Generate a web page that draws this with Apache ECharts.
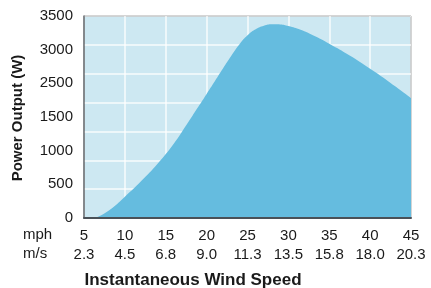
<!DOCTYPE html>
<html>
<head>
<meta charset="utf-8">
<script src="https://cdn.jsdelivr.net/npm/echarts@6/dist/echarts.min.js"></script>
<style>
  html, body { margin: 0; padding: 0; background: #fff; }
  #chart { width: 431px; height: 288px; }
</style>
</head>
<body>
<div id="chart"></div>
<script>
// wind speed (mph) and power output (W)
var speedMph = [6.4, 8, 10, 12, 14, 16, 17.5, 19, 20, 21, 22, 23, 24, 25, 26, 27, 28, 29, 30, 31.5, 33, 35, 37.5, 40, 42.5, 45];
var powerW   = [0, 125, 370, 640, 940, 1290, 1605, 1930, 2150, 2370, 2590, 2805, 3005, 3165, 3270, 3330, 3355, 3352, 3325, 3260, 3165, 3020, 2815, 2585, 2340, 2080];

var mphLabels = ['5', '10', '15', '20', '25', '30', '35', '40', '45'];
var msLabels = ['2.3', '4.5', '6.8', '9.0', '11.3', '13.5', '15.8', '18.0', '20.3'];
// the printed power scale skips 2000, labels are spread evenly
var powerLabels = ['0', '500', '1000', '1500', '2500', '3000', '3500'];

(function () {
  'use strict'

  var font = "'Liberation Sans', Arial, sans-serif";
  var txt = '#1a1a1a';

  var points = speedMph.map(function (s, i) { return [s, powerW[i]]; });

  var option = {
    animation: false,
    grid: {
      left: 84,
      right: 20,
      top: 16,
      bottom: 70,
      show: true,
      backgroundColor: '#cde8f2',
      borderColor: '#1a1a1a',
      borderWidth: 1
    },
    xAxis: [
      {
        type: 'value',
        min: 5,
        max: 45,
        interval: 5,
        position: 'bottom',
        z: 3,
        axisLine: { onZero: false, lineStyle: { color: '#4a5158', width: 2 } },
        axisTick: { show: false },
        splitLine: { lineStyle: { color: 'rgba(255,255,255,0.85)', width: 1.5 } },
        axisLabel: {
          margin: 10,
          fontSize: 15,
          fontFamily: font,
          color: txt,
          formatter: function (v) { return mphLabels[Math.round((v - 5) / 5)]; }
        }
      },
      {
        type: 'value',
        min: 5,
        max: 45,
        interval: 5,
        position: 'bottom',
        axisLine: { show: false },
        axisTick: { show: false },
        splitLine: { show: false },
        axisLabel: {
          margin: 29,
          fontSize: 15,
          fontFamily: font,
          color: txt,
          formatter: function (v) { return msLabels[Math.round((v - 5) / 5)]; }
        }
      }
    ],
    yAxis: [
      {
        type: 'value',
        min: 0,
        max: 3500,
        interval: 500,
        position: 'left',
        z: 3,
        axisLine: { show: true, lineStyle: { color: '#6a6f74', width: 1.5 } },
        axisTick: { show: false },
        axisLabel: { show: false },
        splitLine: { lineStyle: { color: 'rgba(255,255,255,0.85)', width: 1.5 } }
      },
      {
        type: 'value',
        min: 0,
        max: 6,
        interval: 1,
        position: 'left',
        axisLine: { show: false },
        axisTick: { show: false },
        splitLine: { show: false },
        axisLabel: {
          margin: 11,
          fontSize: 15,
          fontFamily: font,
          color: txt,
          formatter: function (v) { return powerLabels[v]; }
        }
      }
    ],
    graphic: [
      { type: 'text', left: 23, top: 227, style: { text: 'mph', font: '15px ' + font, fill: txt } },
      { type: 'text', left: 23, top: 246, style: { text: 'm/s', font: '15px ' + font, fill: txt } },
      {
        type: 'text', x: 193, y: 280,
        style: { text: 'Instantaneous Wind Speed', font: 'bold 17px ' + font, fill: txt, textAlign: 'center', textVerticalAlign: 'middle' }
      },
      {
        type: 'text', x: 18, y: 118, rotation: Math.PI / 2,
        style: { text: 'Power Output (W)', font: 'bold 15px ' + font, fill: txt, textAlign: 'center', textVerticalAlign: 'middle' }
      }
    ],
    series: [
      {
        type: 'line',
        xAxisIndex: 0,
        yAxisIndex: 0,
        data: points,
        smooth: 0.5,
        showSymbol: false,
        lineStyle: { width: 0 },
        areaStyle: { color: '#65bcdf', opacity: 1 }
      }
    ]
  };

  var chart = echarts.init(document.getElementById('chart'));
  chart.setOption(option);
})();
</script>
</body>
</html>
